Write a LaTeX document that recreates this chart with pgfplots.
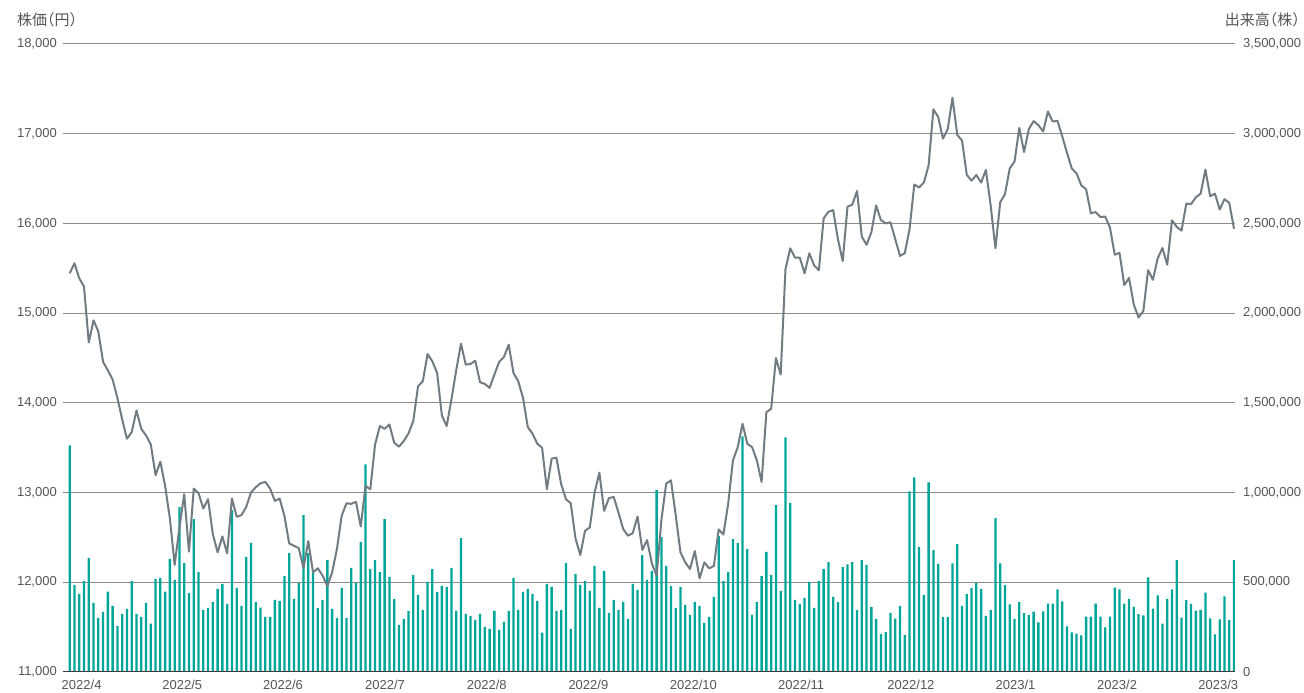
\documentclass[border=0pt]{standalone}
\usepackage{pgfplots}
\pgfplotsset{compat=1.18}
\usepackage{pgfplotstable}
\usepackage{fontspec}
\setmainfont{Liberation Sans}
\newfontfamily\jp[RawFeature=+halt]{Noto Sans CJK JP}
\definecolor{barc}{RGB}{0,166,153}
\definecolor{linec}{RGB}{112,124,130}
\definecolor{gridc}{RGB}{140,140,140}
\definecolor{basec}{RGB}{60,60,60}
\definecolor{txtc}{RGB}{85,85,85}

\pgfplotstableread[row sep=\\]{
x p v\\
0 15444 1263000\\ 1 15556 485000\\ 2 15389 435000\\ 3 15296 507000\\ 4 14674 635000\\
5 14919 385000\\ 6 14796 302000\\ 7 14456 335000\\ 8 14363 448000\\ 9 14259 369000\\
10 14056 257000\\ 11 13815 324000\\ 12 13600 352000\\ 13 13674 507000\\ 14 13915 324000\\
15 13711 307000\\ 16 13637 385000\\ 17 13537 269000\\ 18 13193 519000\\ 19 13344 524000\\
20 13074 448000\\ 21 12711 630000\\ 22 12193 513000\\ 23 12611 919000\\ 24 12981 607000\\
25 12341 441000\\ 26 13044 852000\\ 27 12993 557000\\ 28 12822 346000\\ 29 12926 357000\\
30 12537 391000\\ 31 12333 463000\\ 32 12511 491000\\ 33 12322 380000\\ 34 12933 902000\\
35 12730 469000\\ 36 12748 369000\\ 37 12841 641000\\ 38 13000 719000\\ 39 13060 389000\\
40 13104 359000\\ 41 13119 307000\\ 42 13044 307000\\ 43 12907 402000\\ 44 12933 396000\\
45 12741 535000\\ 46 12433 663000\\ 47 12407 407000\\ 48 12381 496000\\ 49 12159 874000\\
50 12459 663000\\ 51 12111 552000\\ 52 12156 357000\\ 53 12074 402000\\ 54 11956 624000\\
55 12111 352000\\ 56 12370 302000\\ 57 12741 469000\\ 58 12881 302000\\ 59 12874 580000\\
60 12896 496000\\ 61 12622 724000\\ 62 13074 1157000\\ 63 13037 574000\\ 64 13537 624000\\
65 13741 557000\\ 66 13711 852000\\ 67 13759 530000\\ 68 13556 407000\\ 69 13511 263000\\
70 13574 296000\\ 71 13659 341000\\ 72 13796 541000\\ 73 14185 430000\\ 74 14241 346000\\
75 14544 502000\\ 76 14463 574000\\ 77 14333 446000\\ 78 13859 480000\\ 79 13741 474000\\
80 14037 580000\\ 81 14363 341000\\ 82 14659 746000\\ 83 14426 324000\\ 84 14433 313000\\
85 14470 291000\\ 86 14230 324000\\ 87 14211 252000\\ 88 14167 241000\\ 89 14315 341000\\
90 14456 235000\\ 91 14511 280000\\ 92 14648 341000\\ 93 14333 524000\\ 94 14241 346000\\
95 14056 446000\\ 96 13730 463000\\ 97 13656 435000\\ 98 13544 396000\\ 99 13500 219000\\
100 13037 491000\\ 101 13378 474000\\ 102 13389 341000\\ 103 13093 346000\\ 104 12926 607000\\
105 12881 241000\\ 106 12489 546000\\ 107 12304 485000\\ 108 12574 507000\\ 109 12611 452000\\
110 13000 591000\\ 111 13222 357000\\ 112 12796 563000\\ 113 12937 330000\\ 114 12952 402000\\
115 12778 346000\\ 116 12593 391000\\ 117 12519 296000\\ 118 12548 491000\\ 119 12733 457000\\
120 12360 652000\\ 121 12470 513000\\ 122 12211 563000\\ 123 12074 1013000\\ 124 12693 752000\\
125 13100 591000\\ 126 13137 480000\\ 127 12748 357000\\ 128 12333 474000\\ 129 12222 374000\\
130 12148 319000\\ 131 12348 391000\\ 132 12044 369000\\ 133 12222 274000\\ 134 12156 307000\\
135 12181 419000\\ 136 12589 757000\\ 137 12533 507000\\ 138 12878 557000\\ 139 13359 741000\\
140 13507 719000\\ 141 13767 1313000\\ 142 13544 685000\\ 143 13507 319000\\ 144 13359 391000\\
145 13119 535000\\ 146 13896 669000\\ 147 13933 541000\\ 148 14500 930000\\ 149 14315 452000\\
150 15489 1307000\\ 151 15722 941000\\ 152 15619 402000\\ 153 15619 380000\\ 154 15444 413000\\
155 15667 502000\\ 156 15533 357000\\ 157 15478 507000\\ 158 16056 574000\\ 159 16130 613000\\
160 16148 419000\\ 161 15822 389000\\ 162 15580 585000\\ 163 16187 600000\\ 164 16209 613000\\
165 16362 345000\\ 166 15851 623000\\ 167 15762 596000\\ 168 15902 362000\\ 169 16200 296000\\
170 16038 213000\\ 171 16000 223000\\ 172 16013 328000\\ 173 15826 298000\\ 174 15638 368000\\
175 15668 206000\\ 176 15936 1006000\\ 177 16434 1085000\\ 178 16400 698000\\ 179 16455 430000\\
180 16647 1057000\\ 181 17272 679000\\ 182 17187 602000\\ 183 16945 306000\\ 184 17051 306000\\
185 17400 606000\\ 186 16987 713000\\ 187 16923 368000\\ 188 16540 434000\\ 189 16477 468000\\
190 16540 496000\\ 191 16455 462000\\ 192 16596 313000\\ 193 16200 345000\\ 194 15723 857000\\
195 16234 606000\\ 196 16328 485000\\ 197 16613 377000\\ 198 16689 296000\\ 199 17064 389000\\
200 16796 328000\\ 201 17051 317000\\ 202 17140 336000\\ 203 17095 276000\\ 204 17025 338000\\
205 17247 381000\\ 206 17136 381000\\ 207 17144 460000\\ 208 16971 394000\\ 209 16786 254000\\
210 16612 221000\\ 211 16559 214000\\ 212 16423 204000\\ 213 16381 309000\\ 214 16113 309000\\
215 16126 381000\\ 216 16072 309000\\ 217 16076 249000\\ 218 15955 309000\\ 219 15651 470000\\
220 15672 460000\\ 221 15313 381000\\ 222 15392 408000\\ 223 15095 363000\\ 224 14951 322000\\
225 15025 315000\\ 226 15479 528000\\ 227 15371 353000\\ 228 15610 427000\\ 229 15726 270000\\
230 15540 408000\\ 231 16035 460000\\ 232 15961 623000\\ 233 15920 303000\\ 234 16221 400000\\
235 16216 379000\\ 236 16291 342000\\ 237 16332 346000\\ 238 16600 443000\\ 239 16303 299000\\
240 16332 210000\\ 241 16155 293000\\ 242 16270 421000\\ 243 16229 289000\\ 244 15940 623000\\
}\data

\begin{document}
\begin{tikzpicture}
\pgfplotsset{
  base/.style={
    scale only axis, width=1172pt, height=628pt,
    at={(0,0)}, anchor=south west,
    xmin=-1.4, xmax=244.2,
    axis line style={draw=none},
    tick style={draw=none},
    major tick length=0pt,
    scaled y ticks=false,
    yticklabel={\pgfmathprintnumber[fixed, precision=0, 1000 sep={,}, assume math mode=true]{\tick}},
    ticklabel style={font=\fontsize{13}{13}\selectfont, text=txtc},
  }
}
% volume axis (bars, right)
\begin{axis}[base,
  ymin=0, ymax=3500000,
  ytick={0,500000,1000000,1500000,2000000,2500000,3000000,3500000},
  axis y line*=right,
  yticklabel style={anchor=west, inner sep=0pt, xshift=8pt},
  xtick=\empty,
  ymajorgrids, grid style={gridc, line width=1pt},
]
\addplot[ybar, bar width=2.3pt, fill=barc, draw=none] table[x=x, y=v] {\data};
\end{axis}
% price axis (line, left)
\begin{axis}[base,
  ymin=11000, ymax=18000,
  ytick={11000,12000,13000,14000,15000,16000,17000,18000},
  yticklabel style={anchor=east, inner sep=0pt, xshift=-6pt},
  xtick={2.5,23.6,44.7,66.1,87.4,108.7,130.7,153.3,176.3,198.2,219.5,240.7},
  xticklabels={2022/4,2022/5,2022/6,2022/7,2022/8,2022/9,2022/10,2022/11,2022/12,2023/1,2023/2,2023/3},
  xticklabel style={anchor=base, inner sep=0pt, yshift=-18pt},
]
\addplot[linec, line width=2pt, line join=round] table[x=x, y=p] {\data};
\draw[basec, line width=1.5pt] (rel axis cs:0,0) -- (rel axis cs:1,0);
\end{axis}
\node[anchor=west, inner sep=0pt, text=txtc] at (-46pt,652pt) {\jp\fontsize{15}{15}\selectfont 株価（円）};
\node[anchor=east, inner sep=0pt, text=txtc] at (1237pt,652pt) {\jp\fontsize{15}{15}\selectfont 出来高（株）};
\pgfresetboundingbox
\path[use as bounding box] (-63pt,-21pt) rectangle (1241pt,672pt);
\end{tikzpicture}
\end{document}
